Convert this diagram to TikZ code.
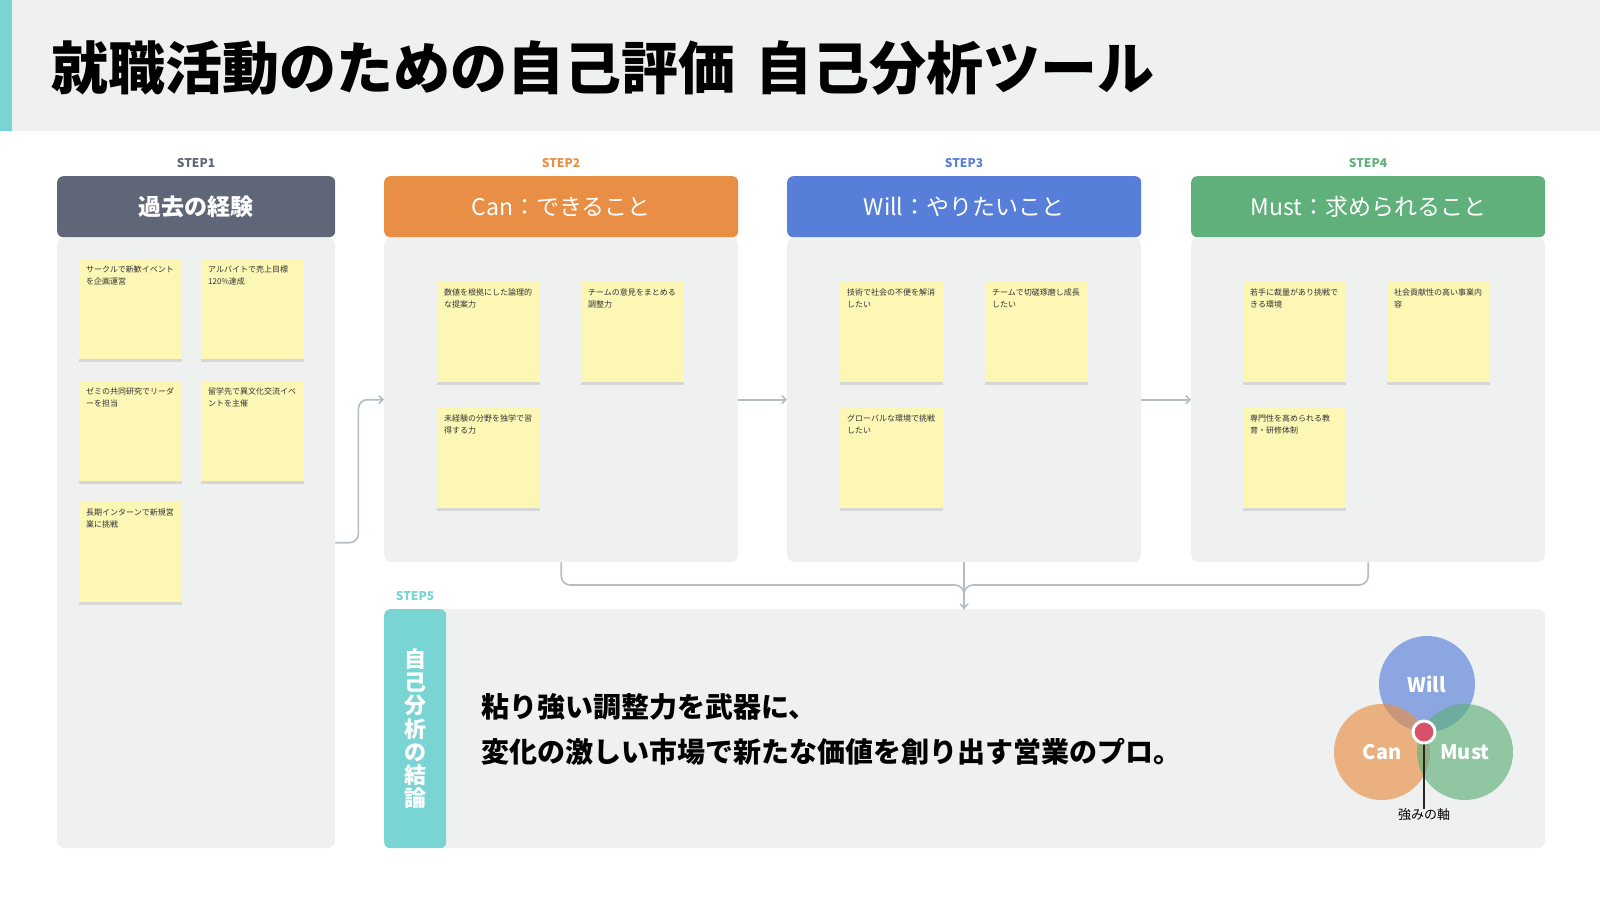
\documentclass[tikz,border=0pt]{standalone}
\usepackage{fontspec}
\setmainfont{Noto Sans CJK JP}
\usetikzlibrary{arrows.meta,shadows,calc}
\definecolor{bandbg}{HTML}{EFF0F0}
\definecolor{cteal}{HTML}{79D4D4}
\definecolor{cslate}{HTML}{5F6678}
\definecolor{corange}{HTML}{E98E45}
\definecolor{cblue}{HTML}{577FD9}
\definecolor{cgreen}{HTML}{5FB07A}
\definecolor{csticky}{HTML}{FDF7B6}
\definecolor{carrow}{HTML}{B2BDC6}
\definecolor{ctext}{HTML}{333333}
\definecolor{cred}{HTML}{D9506B}
\tikzset{
  panel/.style={fill=bandbg, rounded corners=8pt, inner sep=0pt, anchor=north west},
  header/.style={rounded corners=6pt, inner sep=0pt, anchor=north west, minimum height=61pt, text=white, font=\fontsize{23}{23}\selectfont},
  steplabel/.style={font=\fontsize{12}{12}\selectfont\bfseries, inner sep=0pt},
  sticky/.style={fill=csticky, anchor=north west, inner sep=7pt, align=left, text=ctext,
    drop shadow={shadow xshift=0pt, shadow yshift=-2.5pt, opacity=0.18, fill=black!60}},
  conn/.style={draw=carrow, line width=1.6pt, rounded corners=9pt},
  connarrow/.style={conn, -{Straight Barb[length=4pt,width=8pt]}},
  venn/.style={circle, minimum size=96pt, inner sep=0pt, fill opacity=0.65, text opacity=1, text=white, font=\fontsize{20}{20}\selectfont\bfseries},
}
\newcommand{\stickytext}[1]{\parbox[t][86pt][t]{89pt}{\fontsize{8}{11.5}\selectfont #1}}
\begin{document}
\begin{tikzpicture}[x=1pt,y=-1pt]
\useasboundingbox (0,0) rectangle (1600,900);
\fill[white] (0,0) rectangle (1600,900);
% title band
\fill[bandbg] (0,0) rectangle (1600,131);
\fill[cteal] (0,0) rectangle (12,131);
\node[anchor=west, inner sep=0pt, font=\fontsize{57}{57}\selectfont\bfseries] (title) at (51,68) {就職活動のための自己評価\hspace{20pt}自己分析ツール};

% panels
\node[panel, minimum width=278pt, minimum height=611pt] (p1) at (57,237) {};
\node[panel, minimum width=354pt, minimum height=325pt] (p2) at (384,237) {};
\node[panel, minimum width=354pt, minimum height=325pt] (p3) at (787,237) {};
\node[panel, minimum width=354pt, minimum height=325pt] (p4) at (1191,237) {};
\node[panel, minimum width=1161pt, minimum height=239pt] (p5) at (384,609) {};
\node[panel, fill=cteal, minimum width=62pt, minimum height=239pt, rounded corners=6pt] (p5h) at (384,609) {};

% headers
\node[header, fill=cslate, minimum width=278pt] (h1) at (57,176) {\bfseries 過去の経験};
\node[header, fill=corange, minimum width=354pt] (h2) at (384,176) {Can：できること};
\node[header, fill=cblue, minimum width=354pt] (h3) at (787,176) {Will：やりたいこと};
\node[header, fill=cgreen, minimum width=354pt] (h4) at (1191,176) {Must：求められること};

% step labels
\node[steplabel, text=cslate] (s1) at (196,163) {STEP1};
\node[steplabel, text=corange] (s2) at (561,163) {STEP2};
\node[steplabel, text=cblue] (s3) at (964,163) {STEP3};
\node[steplabel, text=cgreen] (s4) at (1368,163) {STEP4};
\node[steplabel, text=cteal] (s5) at (415,596) {STEP5};

% stickies step1
\node[sticky] (n11) at (79,259) {\stickytext{サークルで新歓イベント\\を企画運営}};
\node[sticky] (n12) at (201,259) {\stickytext{アルバイトで売上目標\\120\%達成}};
\node[sticky] (n13) at (79,381) {\stickytext{ゼミの共同研究でリーダ\\ーを担当}};
\node[sticky] (n14) at (201,381) {\stickytext{留学先で異文化交流イベ\\ントを主催}};
\node[sticky] (n15) at (79,502) {\stickytext{長期インターンで新規営\\業に挑戦}};
% step2
\node[sticky] (n21) at (437,282) {\stickytext{数値を根拠にした論理的\\な提案力}};
\node[sticky] (n22) at (581,282) {\stickytext{チームの意見をまとめる\\調整力}};
\node[sticky] (n23) at (437,408) {\stickytext{未経験の分野を独学で習\\得する力}};
% step3
\node[sticky] (n31) at (840,282) {\stickytext{技術で社会の不便を解消\\したい}};
\node[sticky] (n32) at (985,282) {\stickytext{チームで切磋琢磨し成長\\したい}};
\node[sticky] (n33) at (840,408) {\stickytext{グローバルな環境で挑戦\\したい}};
% step4
\node[sticky] (n41) at (1243,282) {\stickytext{若手に裁量があり挑戦で\\きる環境}};
\node[sticky] (n42) at (1387,282) {\stickytext{社会貢献性の高い事業内\\容}};
\node[sticky] (n43) at (1243,408) {\stickytext{専門性を高められる教\\育・研修体制}};

% connectors
\draw[connarrow] (p1.east) -- ([xshift=23pt]p1.east) |- (p2.west);
\draw[connarrow] (p2.east) -- (p3.west);
\draw[connarrow] (p3.east) -- (p4.west);
\coordinate (m) at (964,585);
\draw[conn] (p2.south) |- (m) -- (p5.north -| m);
\draw[conn] (p4.south) |- (m) -- (p5.north -| m);
\draw[connarrow] (p3.south) -- (p5.north -| p3.south);

% step5 content
\node[text=white, font=\fontsize{22}{23.2}\selectfont\bfseries, align=center, inner sep=0pt] (v) at (p5h.center) {自\\己\\分\\析\\の\\結\\論};
\node[anchor=west, align=left, inner sep=0pt, font=\fontsize{28}{45}\selectfont\bfseries, text=black] (concl) at (481,729) {粘り強い調整力を武器に、\\変化の激しい市場で新たな価値を創り出す営業のプロ。};

% venn
\node[venn, fill=cblue] (vw) at (1427,684) {Will};
\node[venn, fill=corange] (vc) at (1382,752) {Can};
\node[venn, fill=cgreen] (vm) at (1465,752) {Must};
\node[inner sep=0pt, font=\fontsize{13}{13}\selectfont, text=black] (lab) at (1424,815) {強みの軸};
\node[circle, minimum size=22pt, inner sep=0pt] (dot) at (1424,732) {};
\draw[line width=1.3pt, black!85] (dot.center) -- (lab.north);
\node[circle, fill=cred, draw=white, line width=3pt, minimum size=22pt, inner sep=0pt] at (dot.center) {};
\end{tikzpicture}
\end{document}
